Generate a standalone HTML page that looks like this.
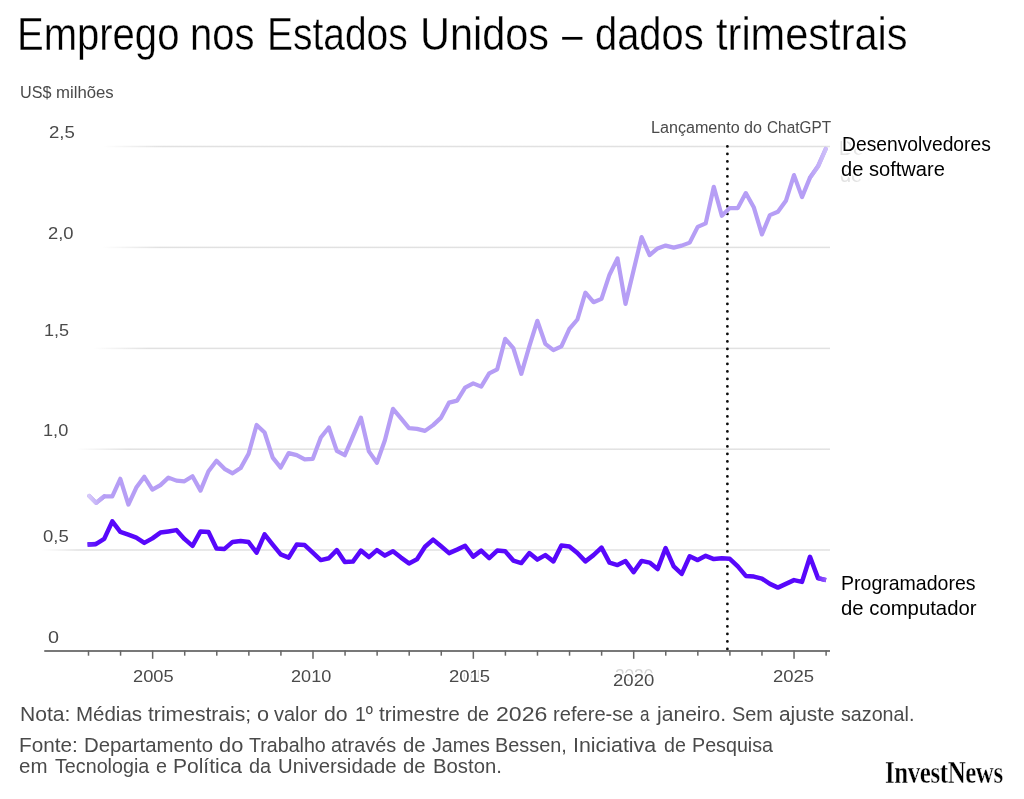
<!DOCTYPE html>
<html lang="pt-BR">
<head>
<meta charset="utf-8">
<title>Emprego nos Estados Unidos – dados trimestrais</title>
<style>
html,body{margin:0;padding:0;background:#fff;}
body{width:1024px;height:799px;overflow:hidden;position:relative;font-family:"Liberation Sans",Arial,Helvetica,sans-serif;}
.chart{position:absolute;left:0;top:0;display:block;}
.t{position:absolute;margin:0;padding:0;white-space:nowrap;line-height:1;font-weight:400;transform-origin:0 0;}
.w{position:absolute;left:0;margin:0;padding:0;width:1024px;height:1em;white-space:nowrap;line-height:1;font-weight:400;}
.w span{position:absolute;top:0;white-space:nowrap;transform-origin:0 0;}
.halo{text-shadow:1.6px 0 #fff,-1.6px 0 #fff,0 1.6px #fff,0 -1.6px #fff,1.15px 1.15px #fff,-1.15px -1.15px #fff,1.15px -1.15px #fff,-1.15px 1.15px #fff,0.8px 0 #fff,-0.8px 0 #fff,0 0.8px #fff,0 -0.8px #fff;}
.ghost{pointer-events:none;user-select:none;}
.thin{-webkit-text-stroke:0.35px #fff;}
</style>
</head>
<body>
<main>
<svg class="chart" width="1024" height="799" viewBox="0 0 1024 799">
<defs>
<linearGradient id="gl" gradientUnits="userSpaceOnUse" x1="88" y1="0" x2="104" y2="0"><stop offset="0" stop-color="#d9cdfa"/><stop offset="1" stop-color="#b69ef5"/></linearGradient>
<linearGradient id="gr" gradientUnits="userSpaceOnUse" x1="808" y1="0" x2="827" y2="0"><stop offset="0" stop-color="#b69ef5"/><stop offset="1" stop-color="#cfc0f9"/></linearGradient>
<linearGradient id="gs" gradientUnits="userSpaceOnUse" x1="87" y1="0" x2="97" y2="0"><stop offset="0" stop-color="#6d2cff"/><stop offset="1" stop-color="#5808fb"/></linearGradient>
<linearGradient id="gd" gradientUnits="userSpaceOnUse" x1="814" y1="0" x2="827" y2="0"><stop offset="0" stop-color="#5808fb"/><stop offset="1" stop-color="#9a62ff"/></linearGradient>
<linearGradient id="g0" gradientUnits="userSpaceOnUse" x1="103" y1="0" x2="162" y2="0"><stop offset="0" stop-color="#e1e1e1" stop-opacity="0"/><stop offset="1" stop-color="#e1e1e1"/></linearGradient>
<linearGradient id="g1" gradientUnits="userSpaceOnUse" x1="102" y1="0" x2="160" y2="0"><stop offset="0" stop-color="#e1e1e1" stop-opacity="0"/><stop offset="1" stop-color="#e1e1e1"/></linearGradient>
<linearGradient id="g2" gradientUnits="userSpaceOnUse" x1="93" y1="0" x2="148" y2="0"><stop offset="0" stop-color="#e1e1e1" stop-opacity="0"/><stop offset="1" stop-color="#e1e1e1"/></linearGradient>
<linearGradient id="g3" gradientUnits="userSpaceOnUse" x1="76" y1="0" x2="128" y2="0"><stop offset="0" stop-color="#e1e1e1" stop-opacity="0"/><stop offset="1" stop-color="#e1e1e1"/></linearGradient>
<linearGradient id="g4" gradientUnits="userSpaceOnUse" x1="42" y1="0" x2="78" y2="0"><stop offset="0" stop-color="#e1e1e1" stop-opacity="0"/><stop offset="1" stop-color="#e1e1e1"/></linearGradient>
</defs>
<g class="grid">
<rect x="103" y="145.75" width="727" height="1.5" fill="url(#g0)"/>
<rect x="102" y="246.65" width="728" height="1.5" fill="url(#g1)"/>
<rect x="93" y="347.65" width="737" height="1.5" fill="url(#g2)"/>
<rect x="76" y="448.45" width="754" height="1.5" fill="url(#g3)"/>
<rect x="42" y="549.25" width="788" height="1.5" fill="url(#g4)"/>
</g>
<line x1="727.4" y1="146.4" x2="727.4" y2="651" stroke="#0d0d0d" stroke-width="2.8" stroke-linecap="round" stroke-dasharray="0 7.5"/>
<rect x="44.25" y="650.2" width="785.75" height="1.6" fill="#585858"/>
<rect x="87.75" y="650.5" width="1.5" height="5.2" fill="#666"/>
<rect x="119.82" y="650.5" width="1.5" height="5.2" fill="#666"/>
<rect x="151.89" y="650.5" width="1.5" height="8.3" fill="#666"/>
<rect x="183.96" y="650.5" width="1.5" height="5.2" fill="#666"/>
<rect x="216.03" y="650.5" width="1.5" height="5.2" fill="#666"/>
<rect x="248.10" y="650.5" width="1.5" height="5.2" fill="#666"/>
<rect x="280.17" y="650.5" width="1.5" height="5.2" fill="#666"/>
<rect x="312.24" y="650.5" width="1.5" height="8.3" fill="#666"/>
<rect x="344.31" y="650.5" width="1.5" height="5.2" fill="#666"/>
<rect x="376.38" y="650.5" width="1.5" height="5.2" fill="#666"/>
<rect x="408.45" y="650.5" width="1.5" height="5.2" fill="#666"/>
<rect x="440.52" y="650.5" width="1.5" height="5.2" fill="#666"/>
<rect x="472.59" y="650.5" width="1.5" height="8.3" fill="#666"/>
<rect x="504.66" y="650.5" width="1.5" height="5.2" fill="#666"/>
<rect x="536.73" y="650.5" width="1.5" height="5.2" fill="#666"/>
<rect x="568.80" y="650.5" width="1.5" height="5.2" fill="#666"/>
<rect x="600.87" y="650.5" width="1.5" height="5.2" fill="#666"/>
<rect x="632.94" y="650.5" width="1.5" height="8.3" fill="#666"/>
<rect x="665.01" y="650.5" width="1.5" height="5.2" fill="#666"/>
<rect x="697.08" y="650.5" width="1.5" height="5.2" fill="#666"/>
<rect x="729.15" y="650.5" width="1.5" height="5.2" fill="#666"/>
<rect x="761.22" y="650.5" width="1.5" height="5.2" fill="#666"/>
<rect x="793.29" y="650.5" width="1.5" height="8.3" fill="#666"/>
<rect x="825.36" y="650.5" width="1.5" height="5.2" fill="#666"/>
<path d="M89.2,495.9 L96.1,502.9 L104.2,496.3 L112.3,496.3 L120.3,478.8 L128.4,504.6 L136.3,487.6 L144.3,476.8 L152.4,489.6 L160.4,485.1 L168.4,477.6 L176.4,480.6 L184.4,481.3 L192.5,476.3 L200.5,490.6 L208.5,471.3 L216.5,460.8 L224.5,468.8 L232.6,473.3 L240.6,468.1 L248.6,453.8 L256.6,425.0 L264.6,432.5 L272.7,457.6 L280.7,467.6 L288.7,453.1 L296.7,455.1 L304.7,459.3 L312.8,458.8 L320.8,437.5 L328.8,427.5 L336.8,450.9 L344.8,455.2 L352.9,436.4 L360.9,417.6 L368.9,451.4 L376.9,462.7 L384.9,440.2 L393.0,408.9 L401.0,418.4 L409.0,428.1 L417.0,428.9 L425.0,430.9 L433.1,425.1 L441.1,417.6 L449.1,402.6 L457.1,400.6 L465.1,387.6 L473.2,383.4 L481.2,386.6 L489.2,373.3 L497.2,369.3 L505.2,338.8 L513.3,348.1 L521.3,373.8 L529.3,346.3 L537.3,320.8 L545.3,343.8 L553.4,350.1 L561.4,346.3 L569.4,328.8 L577.4,319.5 L585.4,292.7 L593.5,302.2 L601.5,298.9 L609.5,274.7 L617.5,258.4 L625.5,303.9 L633.6,270.2 L641.6,237.1 L649.6,255.1 L657.6,248.4 L665.6,245.6 L673.7,247.6 L681.7,245.6 L689.7,242.6 L697.7,226.9 L705.7,223.4 L713.8,186.8 L721.8,215.8 L729.8,208.1 L737.8,208.1 L745.8,193.1 L753.9,207.6 L761.9,234.4 L769.9,215.1 L777.9,211.8 L785.9,200.8 L794.0,175.1 L802.0,197.1 L810.0,177.6 L818.0,166.3 L825.7,149.0" fill="none" stroke="#b69ef5" stroke-width="4.2" stroke-linejoin="round" stroke-linecap="round"/>
<path d="M89.2,495.9 L96.1,502.9 L104.2,496.3" fill="none" stroke="url(#gl)" stroke-width="4.2" stroke-linejoin="round" stroke-linecap="round"/>
<path d="M810.0,177.6 L818.0,166.3 L825.7,149.0" fill="none" stroke="url(#gr)" stroke-width="4.2" stroke-linejoin="round" stroke-linecap="round"/>
<path d="M87.6,544.4 L96.2,543.9 L104.2,538.9 L112.3,521.4 L120.3,531.9 L128.3,534.6 L136.3,537.6 L144.3,542.9 L152.4,538.4 L160.4,532.6 L168.4,531.4 L176.4,530.1 L184.4,538.9 L192.5,545.9 L200.5,531.4 L208.5,532.1 L216.5,548.4 L224.5,548.9 L232.6,541.9 L240.6,540.9 L248.6,542.1 L256.6,552.7 L264.6,534.4 L272.7,544.6 L280.7,554.4 L288.7,557.7 L296.7,544.6 L304.7,545.1 L312.8,552.7 L320.8,560.1 L328.8,558.3 L336.8,550.1 L344.8,562.1 L352.9,561.6 L360.9,550.6 L368.9,557.1 L376.9,550.1 L384.9,555.6 L393.0,551.3 L401.0,557.6 L409.0,563.4 L417.0,559.3 L425.0,546.8 L433.1,539.6 L441.1,546.3 L449.1,553.1 L457.1,549.6 L465.1,545.8 L473.2,556.6 L481.2,550.6 L489.2,558.1 L497.2,550.6 L505.2,551.3 L513.3,560.6 L521.3,563.1 L529.3,553.1 L537.3,559.6 L545.3,555.1 L553.4,561.4 L561.4,545.6 L569.4,546.6 L577.4,553.0 L585.4,561.4 L593.5,555.1 L601.5,547.6 L609.5,562.6 L617.5,565.1 L625.5,561.1 L633.6,572.1 L641.6,560.9 L649.6,562.6 L657.6,569.1 L665.6,548.1 L673.7,566.4 L681.7,573.9 L689.7,556.3 L697.7,560.1 L705.7,555.8 L713.8,559.1 L721.8,558.3 L729.8,558.8 L737.8,566.4 L745.8,575.9 L753.9,576.6 L761.9,578.6 L769.9,583.9 L777.9,587.6 L785.9,583.9 L794.0,580.1 L802.0,581.9 L810.0,556.8 L818.0,578.1 L826.0,580.1" fill="none" stroke="#5808fb" stroke-width="4.5" stroke-linejoin="round" stroke-linecap="butt"/>
<path d="M87.6,544.4 L96.2,543.9" fill="none" stroke="url(#gs)" stroke-width="4.5" stroke-linejoin="round" stroke-linecap="butt"/>
<path d="M818.0,578.1 L826.0,580.1" fill="none" stroke="url(#gd)" stroke-width="4.5" stroke-linejoin="round" stroke-linecap="butt"/>
</svg>
<h1 class="w title thin" style="top:11.38px;font-size:46.8px;color:#000;"><span style="left:16.80px;transform:scaleX(0.8552);">Emprego</span> <span style="left:190.20px;transform:scaleX(0.8533);">nos</span> <span style="left:267.48px;transform:scaleX(0.8321);">Estados</span> <span style="left:420.49px;transform:scaleX(0.8853);">Unidos</span> <span style="left:561.60px;transform:scaleX(0.7931);">–</span> <span style="left:595.31px;transform:scaleX(0.8515);">dados</span> <span style="left:716.28px;transform:scaleX(0.8880);">trimestrais</span></h1>
<div class="w unit" style="top:85.11px;font-size:16.7px;color:#4a4a4a;"><span style="left:19.79px;transform:scaleX(0.9684);">US$</span> <span style="left:56.41px;transform:scaleX(1.0043);">milhões</span></div>
<p class="w note" style="top:704.30px;font-size:20.5px;color:#4a4a4a;"><span style="left:19.61px;transform:scaleX(1.0283);">Nota:</span> <span style="left:75.86px;transform:scaleX(0.9999);">Médias</span> <span style="left:148.08px;transform:scaleX(1.0296);">trimestrais;</span> <span style="left:256.93px;transform:scaleX(1.0578);">o</span> <span style="left:274.30px;transform:scaleX(0.9711);">valor</span> <span style="left:324.15px;transform:scaleX(1.0372);">do</span> <span style="left:354.79px;transform:scaleX(0.9493);">1º</span> <span style="left:379.39px;transform:scaleX(1.0138);">trimestre</span> <span style="left:467.00px;transform:scaleX(0.9756);">de</span> <span style="left:495.74px;transform:scaleX(1.1275);">2026</span> <span style="left:553.39px;transform:scaleX(0.9819);">refere-se</span> <span style="left:639.92px;transform:scaleX(0.8335);">a</span> <span style="left:657.13px;transform:scaleX(1.0287);">janeiro.</span> <span style="left:731.90px;transform:scaleX(0.9706);">Sem</span> <span style="left:778.97px;transform:scaleX(1.0181);">ajuste</span> <span style="left:840.91px;transform:scaleX(0.9607);">sazonal.</span></p>
<p class="w note" style="top:735.30px;font-size:20.5px;color:#4a4a4a;"><span style="left:18.94px;transform:scaleX(1.0122);">Fonte:</span> <span style="left:83.67px;transform:scaleX(0.9937);">Departamento</span> <span style="left:218.83px;transform:scaleX(1.0656);">do</span> <span style="left:249.01px;transform:scaleX(0.9579);">Trabalho</span> <span style="left:331.40px;transform:scaleX(0.9695);">através</span> <span style="left:403.29px;transform:scaleX(0.9898);">de</span> <span style="left:431.91px;transform:scaleX(0.9588);">James</span> <span style="left:495.31px;transform:scaleX(0.9685);">Bessen,</span> <span style="left:573.08px;transform:scaleX(1.0430);">Iniciativa</span> <span style="left:664.21px;transform:scaleX(0.9614);">de</span> <span style="left:692.17px;transform:scaleX(0.9605);">Pesquisa</span></p>
<p class="w note" style="top:756.05px;font-size:20.5px;color:#4a4a4a;"><span style="left:19.08px;transform:scaleX(1.0003);">em</span> <span style="left:55.21px;transform:scaleX(0.9613);">Tecnologia</span> <span style="left:156.41px;transform:scaleX(0.9653);">e</span> <span style="left:173.32px;transform:scaleX(1.0244);">Política</span> <span style="left:249.21px;transform:scaleX(0.9688);">da</span> <span style="left:277.58px;transform:scaleX(0.9910);">Universidade</span> <span style="left:403.29px;transform:scaleX(0.9898);">de</span> <span style="left:432.78px;transform:scaleX(0.9907);">Boston.</span></p>
<div aria-hidden="true" class="t lab ghost" style="left:839.05px;top:137.85px;font-size:20.5px;color:#e2e2e2;transform:scaleX(0.9436);-webkit-mask-image:linear-gradient(90deg,#000 0,#000 16px,transparent 30px);mask-image:linear-gradient(90deg,#000 0,#000 16px,transparent 30px);">Desenvolvedores</div>
<div aria-hidden="true" class="t lab ghost" style="left:839.60px;top:164.85px;font-size:20.5px;color:#e2e2e2;transform:scaleX(0.9737);-webkit-mask-image:linear-gradient(90deg,#000 0,#000 16px,transparent 30px);mask-image:linear-gradient(90deg,#000 0,#000 16px,transparent 30px);">de software</div>
<div class="t lab halo" style="left:842.16px;top:134.15px;font-size:20.5px;color:#000;transform:scaleX(0.9397);">Desenvolvedores</div>
<div class="t lab halo" style="left:841.20px;top:159.35px;font-size:20.5px;color:#000;transform:scaleX(0.9804);">de software</div>
<div class="t lab halo" style="left:841.34px;top:572.92px;font-size:20.3px;color:#000;transform:scaleX(0.9627);">Programadores</div>
<div class="t lab halo" style="left:841.49px;top:597.72px;font-size:20.3px;color:#000;transform:scaleX(1.0016);">de computador</div>
<div class="w ann" style="top:119.86px;font-size:16px;color:#4a4a4a;"><span style="left:650.71px;transform:scaleX(1.0074);">Lançamento</span> <span style="left:743.76px;transform:scaleX(1.0073);">do</span> <span style="left:766.63px;transform:scaleX(0.9600);">ChatGPT</span></div>
<div class="t logo" style="left:885.05px;top:756.94px;font-size:31px;color:#000;transform:scaleX(0.8034);letter-spacing:-0.5px;font-weight:700;font-family:'Liberation Serif', 'Times New Roman', serif;-webkit-text-stroke:0.4px #fff;">InvestNews</div>
<div class="t ax" style="left:49.07px;top:125.19px;font-size:15.9px;color:#4a4a4a;transform:scaleX(1.1732);">2,5</div>
<div class="t ax" style="left:48.33px;top:226.19px;font-size:15.9px;color:#4a4a4a;transform:scaleX(1.1567);">2,0</div>
<div class="t ax" style="left:43.65px;top:323.19px;font-size:15.9px;color:#4a4a4a;transform:scaleX(1.1345);">1,5</div>
<div class="t ax" style="left:42.89px;top:423.19px;font-size:15.9px;color:#4a4a4a;transform:scaleX(1.1424);">1,0</div>
<div class="t ax" style="left:43.01px;top:528.94px;font-size:15.9px;color:#4a4a4a;transform:scaleX(1.1642);">0,5</div>
<div class="t ax" style="left:47.96px;top:629.94px;font-size:15.9px;color:#4a4a4a;transform:scaleX(1.2448);">0</div>
<div aria-hidden="true" class="t ax ghost" style="left:292.59px;top:668.69px;font-size:15.9px;color:#d6d6d6;transform:scaleX(1.1388);-webkit-mask-image:linear-gradient(90deg,#000 0,#000 60%,transparent 88%);mask-image:linear-gradient(90deg,#000 0,#000 60%,transparent 88%);">2010</div>
<div aria-hidden="true" class="t ax ghost" style="left:452.37px;top:668.69px;font-size:15.9px;color:#c6c6c6;transform:scaleX(1.1636);-webkit-mask-image:linear-gradient(90deg,#000 0,#000 60%,transparent 88%);mask-image:linear-gradient(90deg,#000 0,#000 60%,transparent 88%);">2015</div>
<div aria-hidden="true" class="t ax ghost" style="left:614.54px;top:668.04px;font-size:15.9px;color:#d4d4d4;transform:scaleX(1.0815);">2020</div>
<div class="t ax halo" style="left:133.34px;top:668.69px;font-size:15.9px;color:#4a4a4a;transform:scaleX(1.1489);">2005</div>
<div class="t ax halo" style="left:291.34px;top:668.69px;font-size:15.9px;color:#4a4a4a;transform:scaleX(1.1388);">2010</div>
<div class="t ax halo" style="left:448.82px;top:668.69px;font-size:15.9px;color:#4a4a4a;transform:scaleX(1.1636);">2015</div>
<div class="t ax halo" style="left:613.07px;top:672.51px;font-size:16.7px;color:#4a4a4a;transform:scaleX(1.1123);">2020</div>
<div class="t ax halo" style="left:772.57px;top:668.69px;font-size:15.9px;color:#4a4a4a;transform:scaleX(1.1636);">2025</div>
</main>
</body>
</html>
